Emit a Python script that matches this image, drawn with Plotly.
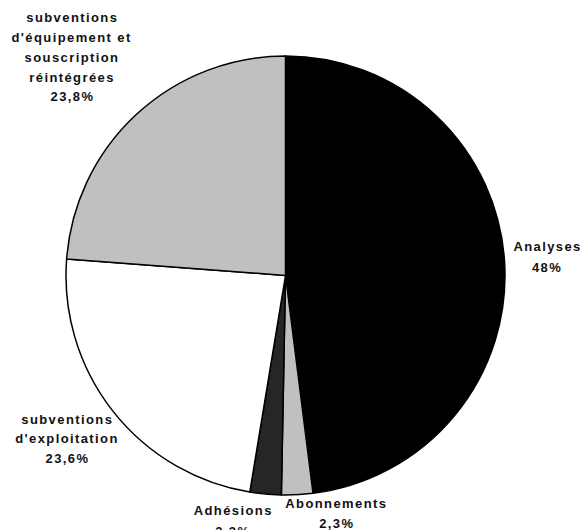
import plotly.graph_objects as go

# ---- data ----
labels = ["Analyses", "Abonnements", "Adhésions",
          "subventions d'exploitation",
          "subventions d'équipement et souscription réintégrées"]
values = [48.0, 2.3, 2.3, 23.6, 23.8]
pct_text = ["48%", "2,3%", "2,3%", "23,6%", "23,8%"]
label_lines = [
    ["Analyses"],
    ["Abonnements"],
    ["Adhésions"],
    ["subventions", "d'exploitation"],
    ["subventions", "d'équipement et", "souscription", "réintégrées"],
]

# ---- style ----
colors = ["#000000", "#c0c0c0", "#262626", "#ffffff", "#c0c0c0"]
W, H = 581, 530
# (x center px, y of first line px, line spacing px)
label_pos = [
    (547, 246, 21),
    (337, 503, 20),
    (233, 510, 21),
    (67, 419, 19.5),
    (72, 18, 19.7),
]

fig = go.Figure(go.Pie(
    labels=labels, values=values, sort=False, direction="clockwise",
    rotation=0, marker=dict(colors=colors, line=dict(color="#000000", width=1.5)),
    textinfo="none", hoverinfo="label+percent", showlegend=False,
    domain=dict(x=[66 / W, 505 / W], y=[1 - 495 / H, 1 - 56 / H]),
))

annotations = []
for lines, pct, (xc, y0, dy) in zip(label_lines, pct_text, label_pos):
    for i, t in enumerate(lines + [pct]):
        y = y0 + i * dy
        annotations.append(dict(
            x=xc / W, y=1 - y / H, xref="paper", yref="paper",
            text=t, showarrow=False, xanchor="center", yanchor="middle",
            font=dict(family="Liberation Sans, Arial, sans-serif", size=13,
                      color="#111111", weight="bold"),
        ))

fig.update_layout(
    width=W, height=H, margin=dict(l=0, r=0, t=0, b=0),
    paper_bgcolor="#ffffff", plot_bgcolor="#ffffff",
    annotations=annotations,
)

post = ("document.querySelectorAll('.annotation-text').forEach(function(e){"
        "e.style.letterSpacing='1.4px';});")
fig.write_html("out.html", post_script=post)
